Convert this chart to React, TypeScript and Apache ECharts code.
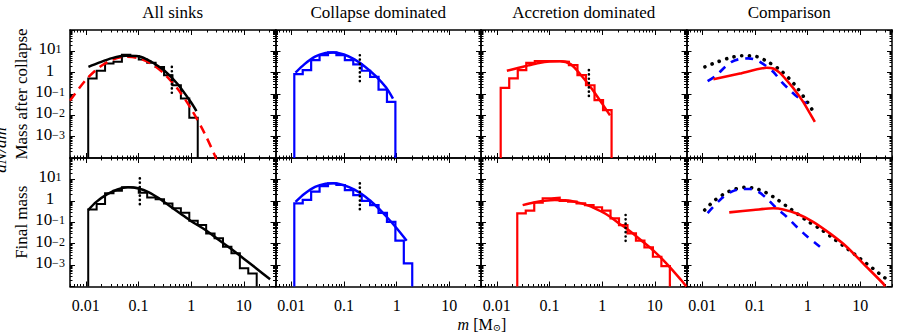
import React, { useEffect, useRef } from 'react';
import * as echarts from 'echarts';

// ---------- text ----------
const columnTitles = ['All sinks', 'Collapse dominated', 'Accretion dominated', 'Comparison'];
const rowTitles = ['Mass after collapse', 'Final mass'];
const yAxisTitle = 'dN/dm';
const xTickValues = [0.01, 0.1, 1, 10];
const xTickText = ['0.01', '0.1', '1', '10'];
const yTickValues = [10, 1, 0.1, 0.01, 0.001];
const yTickExponent = ['1', '', '−1', '−2', '−3'];

// ---------- All sinks, mass after collapse ----------
const allAfterEdges = [0.01109, 0.01603, 0.02317, 0.0335, 0.0484, 0.07, 0.1012, 0.1462, 0.2113, 0.3055, 0.4416, 0.638, 0.9226, 1.334];
const allAfterCounts = [0.537, 1.22, 2.69, 3.24, 6.92, 6.03, 4.17, 2.88, 1.86, 0.759, 0.257, 0.0617, 0.00776];
const allAfterFitM = [0.0112, 0.0178, 0.0316, 0.0562, 0.1, 0.178, 0.316, 0.562, 1.0, 1.26];
const allAfterFitY = [1.86, 2.95, 4.79, 6.17, 5.89, 3.16, 1.2, 0.28, 0.04, 0.0158];
const allAfterRefM = [0.005, 0.01, 0.0178, 0.0316, 0.0562, 0.1, 0.178, 0.316, 0.562, 1.0, 1.78, 2.82, 3.0];
const allAfterRefY = [0.049, 0.457, 1.74, 3.98, 5.57, 4.79, 2.57, 0.832, 0.166, 0.02, 0.00151, 0.000132, 0.0000891];
const allAfterMarkM = 0.43;
const allAfterMarkY = [1.86, 0.078];

// ---------- All sinks, final mass ----------
const allFinalEdges = [0.01109, 0.01603, 0.02317, 0.0335, 0.0484, 0.07, 0.1012, 0.1462, 0.2113, 0.3055, 0.4416, 0.638, 0.9226, 1.334, 1.928, 2.786, 4.027, 5.821, 8.414, 12.16, 17.58];
const allFinalCounts = [0.398, 0.708, 2.24, 2.95, 4.27, 3.98, 2.4, 1.45, 1.17, 0.759, 0.447, 0.275, 0.117, 0.0741, 0.0302, 0.0178, 0.00724, 0.00355, 0.000708, 0.000407];
const allFinalFitM = [0.0111, 0.0158, 0.0251, 0.0398, 0.0631, 0.1, 0.158, 0.251, 0.398, 0.631, 1.0, 1.78, 3.16, 5.62, 10, 17.8, 31.6];
const allFinalFitY = [0.372, 0.891, 2.0, 3.39, 4.27, 3.8, 2.51, 1.26, 0.562, 0.251, 0.112, 0.0468, 0.0166, 0.00589, 0.002, 0.00066, 0.000219];
const allFinalMarkM = 0.106;
const allFinalMarkY = [11.2, 0.537];

// ---------- Collapse dominated ----------
const colAfterEdges = [0.01138, 0.01644, 0.02377, 0.03436, 0.04966, 0.07178, 0.1038, 0.15, 0.2168, 0.3133, 0.4529, 0.6546, 0.9462];
const colAfterCounts = [0.851, 1.32, 3.89, 6.61, 8.91, 6.61, 3.89, 2.45, 1.23, 0.631, 0.162, 0.0427];
const colAfterFitM = [0.012, 0.0178, 0.0282, 0.0447, 0.0631, 0.1, 0.158, 0.251, 0.398, 0.631, 0.851];
const colAfterFitY = [1.0, 2.51, 5.62, 8.32, 8.91, 7.08, 4.17, 1.91, 0.708, 0.2, 0.0603];
const colAfterMarkM = 0.2;
const colAfterMarkY = [6.6, 0.32];

const colFinalEdges = [0.01138, 0.01644, 0.02377, 0.03436, 0.04966, 0.07178, 0.1038, 0.15, 0.2168, 0.3133, 0.4529, 0.6546, 0.9462, 1.368, 1.977];
const colFinalCounts = [0.759, 1.1, 2.69, 4.9, 6.61, 5.5, 3.16, 1.86, 1.0, 0.631, 0.275, 0.105, 0.0138, 0.0012];
const colFinalFitM = [0.012, 0.0178, 0.0282, 0.0447, 0.0631, 0.1, 0.158, 0.251, 0.398, 0.631, 1.0, 1.55];
const colFinalFitY = [0.891, 2.14, 4.47, 6.31, 6.61, 5.37, 3.31, 1.58, 0.603, 0.191, 0.0525, 0.0138];
const colFinalMarkM = 0.2;
const colFinalMarkY = [6.6, 0.31];

// ---------- Accretion dominated ----------
const accAfterEdges = [0.01183, 0.01718, 0.02495, 0.03622, 0.0526, 0.07638, 0.1109, 0.1611, 0.2339, 0.3396, 0.4932, 0.7161, 1.04, 1.51];
const accAfterCounts = [0.195, 0.537, 1.32, 2.88, 3.47, 3.47, 3.47, 3.24, 2.24, 0.759, 0.257, 0.0513, 0.0174];
const accAfterFitM = [0.0155, 0.0251, 0.0398, 0.0631, 0.1, 0.158, 0.251, 0.398, 0.631, 1.0, 1.41];
const accAfterFitY = [1.23, 1.66, 2.19, 2.82, 3.31, 3.47, 2.51, 0.759, 0.182, 0.0355, 0.01];
const accAfterMarkM = 0.56;
const accAfterMarkY = [1.32, 0.062];

const accFinalEdges = [0.02443, 0.0354, 0.0513, 0.0743, 0.1076, 0.156, 0.2259, 0.3273, 0.4742, 0.6871, 0.9954, 1.442, 2.089, 3.027, 4.385, 6.353, 9.204, 13.34, 19.32];
const accFinalCounts = [0.257, 0.347, 0.813, 1.32, 1.41, 1.0, 0.912, 0.759, 0.631, 0.501, 0.347, 0.151, 0.0741, 0.0302, 0.0138, 0.00676, 0.00245, 0.000891];
const accFinalFitM = [0.0309, 0.0501, 0.0794, 0.126, 0.2, 0.316, 0.501, 0.794, 1.26, 2.0, 3.16, 5.62, 10, 17.8, 31.6, 39.8];
const accFinalFitY = [0.631, 0.832, 1.0, 1.1, 1.07, 0.891, 0.646, 0.398, 0.219, 0.0955, 0.0437, 0.0138, 0.00417, 0.001, 0.0002, 0.0001];
const accFinalMarkM = 2.79;
const accFinalMarkY = [0.219, 0.0102];

// ---------- Comparison ----------
const cmpAfterColM = [0.0126, 0.0187, 0.0251, 0.0361, 0.0518, 0.0745, 0.107, 0.155, 0.222, 0.32, 0.46, 0.661, 0.955];
const cmpAfterColY = [0.398, 0.759, 1.58, 3.24, 4.37, 4.68, 3.89, 2.24, 1.1, 0.372, 0.151, 0.0676, 0.0355];
const cmpAfterAccM = [0.0162, 0.0518, 0.166, 0.222, 0.297, 0.398, 0.573, 0.822, 1.37];
const cmpAfterAccY = [0.49, 0.912, 1.7, 1.58, 0.977, 0.447, 0.151, 0.0427, 0.0049];
const cmpFinalColM = [0.0126, 0.0216, 0.0361, 0.0557, 0.0802, 0.115, 0.166, 0.257, 0.398, 0.617, 0.955, 1.71];
const cmpFinalColY = [0.269, 1.1, 2.69, 3.55, 3.55, 2.69, 1.32, 0.447, 0.182, 0.0617, 0.0229, 0.00724];
const cmpFinalAccM = [0.0324, 0.0927, 0.222, 0.343, 0.617, 1.27, 2.64, 5.48, 11.3, 27.1, 29.5];
const cmpFinalAccY = [0.288, 0.372, 0.447, 0.398, 0.257, 0.105, 0.0302, 0.00724, 0.0012, 0.000138, 0.0001];

// ---------- layout / style ----------
const X_MIN = 0.005, X_MAX = 40, Y_MIN = 1e-4, Y_MAX = 100;
const GRID_LEFTS = [70, 275.5, 481, 686.5];
const GRID_W = 205.5;
const GRID_TOPS = [30, 158];
const GRID_HS = [128, 128.5];
const SERIF = 'Liberation Serif, Times New Roman, DejaVu Serif, serif';
const BLACK = '#000000', BLUE = '#0000ff', RED = '#ff0000';

const xMajor = [0.01, 0.1, 1, 10];
const yMajor = [1e-4, 1e-3, 1e-2, 0.1, 1, 10, 100];
function minorTicks(kFrom: number, kTo: number, lo: number, hi: number) {
  const out: number[] = [];
  for (let k = kFrom; k <= kTo; k++) {
    for (let d = 2; d <= 9; d++) {
      const v = Number((d * Math.pow(10, k)).toPrecision(3));
      if (v >= lo && v <= hi) out.push(v);
    }
  }
  return out;
}
const xMinor = minorTicks(-3, 1, X_MIN, X_MAX);
const yMinor = minorTicks(-4, 1, Y_MIN, Y_MAX);

function zip(m: number[], y: number[]) {
  return m.map((v, i) => [v, y[i]]);
}
function histPoints(edges: number[], counts: number[]) {
  const pts: number[][] = [[edges[0], Y_MIN]];
  counts.forEach((c, i) => {
    pts.push([edges[i], c]);
    pts.push([edges[i + 1], c]);
  });
  pts.push([edges[edges.length - 1], Y_MIN]);
  return pts;
}

function yLabel(v: number) {
  const e = Math.round(Math.log10(v));
  const idx = yTickValues.findIndex((t) => Math.round(Math.log10(t)) === e);
  if (idx < 0) return '';
  const ex = yTickExponent[idx];
  return ex === '' ? '{b|1}' : '{b|10}{s|' + ex + '}';
}
const yRich = {
  b: { fontSize: 17, fontFamily: SERIF, color: BLACK, lineHeight: 16, padding: [0, 0, 2, 0], verticalAlign: 'bottom' },
  s: { fontSize: 12, fontFamily: SERIF, color: BLACK, lineHeight: 11, padding: [0, 0, 9, 0], verticalAlign: 'top' },
};

export default function App() {
  const ref = useRef<HTMLDivElement>(null);
  useEffect(() => {
    if (!ref.current) return;
    const chart = echarts.init(ref.current, undefined, { renderer: 'svg' });

    const grids: any[] = [];
    const xAxes: any[] = [];
    const yAxes: any[] = [];
    const tickStyle = { color: BLACK, width: 1 };
    const lineStyleAxis = { color: BLACK, width: 1.5 };
    // label sets split over two axes so neighbouring labels never compete for space
    const yLabelsA = yTickValues.filter((_, i) => i % 2 === 0);
    const yLabelsB = yTickValues.filter((_, i) => i % 2 === 1);

    for (let r = 0; r < 2; r++) {
      for (let c = 0; c < 4; c++) {
        const g = r * 4 + c;
        grids.push({ left: GRID_LEFTS[c], top: GRID_TOPS[r], width: GRID_W, height: GRID_HS[r], containLabel: false });
        const xBase = {
          type: 'log', logBase: 10, min: X_MIN, max: X_MAX, gridIndex: g,
          splitLine: { show: false }, axisPointer: { show: false }, silent: true,
        };
        const yBase = {
          type: 'log', logBase: 10, min: Y_MIN, max: Y_MAX, gridIndex: g,
          splitLine: { show: false }, axisPointer: { show: false }, silent: true,
        };
        (['bottom', 'top'] as const).forEach((pos) => {
          const labelled = pos === 'bottom' && r === 1;
          xAxes.push({
            ...xBase, position: pos,
            axisLine: { show: true, onZero: false, lineStyle: lineStyleAxis },
            axisTick: { show: true, inside: true, length: 5, lineStyle: tickStyle, customValues: xMajor },
            axisLabel: labelled
              ? {
                  show: true, showMinLabel: true, showMaxLabel: true, hideOverlap: false,
                  customValues: xTickValues, margin: 11, fontSize: 16, fontFamily: SERIF, color: BLACK,
                  formatter: (v: number) => {
                    const e = Math.round(Math.log10(v));
                    const idx = xTickValues.findIndex((t) => Math.round(Math.log10(t)) === e);
                    return idx >= 0 ? xTickText[idx] : '';
                  },
                }
              : { show: false },
          });
          xAxes.push({
            ...xBase, position: pos,
            axisLine: { show: false, onZero: false },
            axisTick: { show: true, inside: true, length: 2.5, lineStyle: tickStyle, customValues: xMinor },
            axisLabel: { show: false },
          });
        });
        (['left', 'right'] as const).forEach((pos) => {
          const labelled = pos === 'left' && c === 0;
          const lab = (vals: number[]) =>
            labelled
              ? {
                  show: true, showMinLabel: true, showMaxLabel: true, hideOverlap: false,
                  customValues: vals, margin: 20, align: 'center', color: BLACK,
                  formatter: yLabel, rich: yRich,
                }
              : { show: false };
          yAxes.push({
            ...yBase, position: pos,
            axisLine: { show: true, onZero: false, lineStyle: lineStyleAxis },
            axisTick: { show: true, inside: true, length: 5, lineStyle: tickStyle, customValues: yMajor },
            axisLabel: lab(yLabelsA),
          });
          yAxes.push({
            ...yBase, position: pos,
            axisLine: { show: false, onZero: false },
            axisTick: { show: true, inside: true, length: 2.5, lineStyle: tickStyle, customValues: yMinor },
            axisLabel: lab(yLabelsB),
          });
        });
      }
    }

    const series: any[] = [];
    const add = (g: number, data: number[][], color: string, width: number, type: any = 'solid', smooth: any = false, z = 3) => {
      series.push({
        type: 'line', xAxisIndex: g * 4, yAxisIndex: g * 4, data, symbol: 'none', showSymbol: false,
        smooth, clip: true, silent: true, z,
        lineStyle: { color, width, type, cap: Array.isArray(type) && type[0] < 1 ? 'round' : 'butt', join: 'miter' },
      });
    };
    const dots = [0.1, 4.2];

    // row 0: after collapse
    add(0, histPoints(allAfterEdges, allAfterCounts), BLACK, 2);
    add(0, zip(allAfterRefM, allAfterRefY), RED, 2.5, [9, 6], 0.3);
    add(0, zip(allAfterFitM, allAfterFitY), BLACK, 2.5, 'solid', 0.3);
    add(0, [[allAfterMarkM, allAfterMarkY[0]], [allAfterMarkM, allAfterMarkY[1]]], BLACK, 2.6, dots);

    add(1, histPoints(colAfterEdges, colAfterCounts), BLUE, 2.2);
    add(1, zip(colAfterFitM, colAfterFitY), BLUE, 2.5, 'solid', 0.3);
    add(1, [[colAfterMarkM, colAfterMarkY[0]], [colAfterMarkM, colAfterMarkY[1]]], BLACK, 2.6, dots);

    add(2, histPoints(accAfterEdges, accAfterCounts), RED, 2.2);
    add(2, zip(accAfterFitM, accAfterFitY), RED, 2.5, 'solid', 0.3);
    add(2, [[accAfterMarkM, accAfterMarkY[0]], [accAfterMarkM, accAfterMarkY[1]]], BLACK, 2.6, dots);

    add(3, zip(allAfterFitM, allAfterFitY), BLACK, 3.6, [0.1, 7.6], 0.3);
    add(3, zip(cmpAfterColM, cmpAfterColY), BLUE, 2.6, [8, 7], 0.3);
    add(3, zip(cmpAfterAccM, cmpAfterAccY), RED, 2.6, 'solid', 0.2);

    // row 1: final mass
    add(4, histPoints(allFinalEdges, allFinalCounts), BLACK, 2);
    add(4, zip(allFinalFitM, allFinalFitY), BLACK, 2.5, 'solid', 0.3);
    add(4, [[allFinalMarkM, allFinalMarkY[0]], [allFinalMarkM, allFinalMarkY[1]]], BLACK, 2.6, dots);

    add(5, histPoints(colFinalEdges, colFinalCounts), BLUE, 2.2);
    add(5, zip(colFinalFitM, colFinalFitY), BLUE, 2.5, 'solid', 0.3);
    add(5, [[colFinalMarkM, colFinalMarkY[0]], [colFinalMarkM, colFinalMarkY[1]]], BLACK, 2.6, dots);

    add(6, histPoints(accFinalEdges, accFinalCounts), RED, 2.2);
    add(6, zip(accFinalFitM, accFinalFitY), RED, 2.5, 'solid', 0.3);
    add(6, [[accFinalMarkM, accFinalMarkY[0]], [accFinalMarkM, accFinalMarkY[1]]], BLACK, 2.6, dots);

    add(7, zip(allFinalFitM, allFinalFitY), BLACK, 3.6, [0.1, 7.6], 0.3);
    add(7, zip(cmpFinalColM, cmpFinalColY), BLUE, 2.6, [8, 7], 0.3);
    add(7, zip(cmpFinalAccM, cmpFinalAccY), RED, 2.6, 'solid', 0.3);

    const txt = (text: string, size: number, extra: any = {}) => ({
      text, fontSize: size, fontFamily: SERIF, fill: BLACK, textAlign: 'center', textVerticalAlign: 'middle', ...extra,
    });
    const graphic: any[] = [];
    columnTitles.forEach((t, c) => {
      graphic.push({ type: 'text', x: GRID_LEFTS[c] + GRID_W / 2, y: 12, silent: true, style: txt(t, 17) });
    });
    rowTitles.forEach((t, r) => {
      graphic.push({
        type: 'text', x: 21, y: GRID_TOPS[r] + GRID_HS[r] / 2, rotation: Math.PI / 2, silent: true,
        style: txt(t, 17),
      });
    });
    graphic.push({
      type: 'text', x: 0, y: 150, rotation: Math.PI / 2, silent: true,
      style: txt(yAxisTitle, 17, { fontStyle: 'italic' }),
    });
    graphic.push({
      type: 'text', x: 482, y: 324, silent: true,
      style: txt('{i|m} [M{sub|⊙}]', 16, {
        rich: {
          i: { fontStyle: 'italic', fontSize: 16, fontFamily: SERIF, fill: BLACK },
          sub: { fontSize: 10, fontFamily: 'DejaVu Serif, serif', fill: BLACK, verticalAlign: 'bottom', lineHeight: 8 },
        },
      }),
    });

    chart.setOption({
      animation: false,
      backgroundColor: '#ffffff',
      textStyle: { fontFamily: SERIF, color: BLACK },
      grid: grids,
      xAxis: xAxes,
      yAxis: yAxes,
      series,
      graphic,
    });
    return () => chart.dispose();
  }, []);
  return <div ref={ref} style={{ position: 'fixed', left: 0, top: 0, width: 899, height: 332, background: '#fff' }} />;
}
